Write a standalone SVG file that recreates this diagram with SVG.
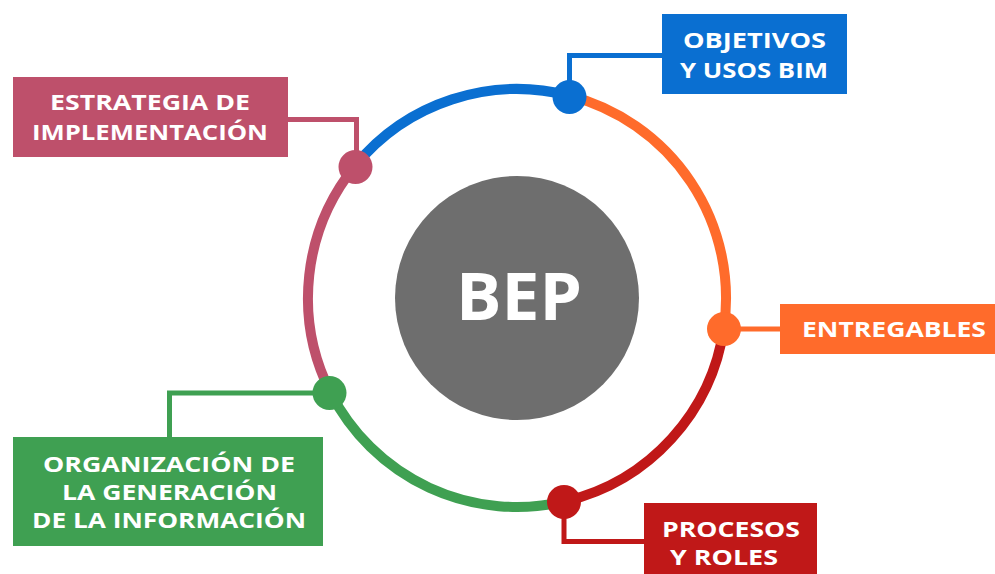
<svg xmlns="http://www.w3.org/2000/svg" width="995" height="574" viewBox="0 0 995 574">
<style>
.arc{fill:none;stroke-width:10}
.con{fill:none;stroke-width:5}
.lbl{font-family:"Open Sans","Liberation Sans",sans-serif;font-weight:bold;font-size:22px;fill:#fff;text-anchor:middle}
.bep{font-family:"Open Sans","Liberation Sans",sans-serif;font-weight:bold;font-size:67px;fill:#fff;text-anchor:middle}
</style>
<rect width="995" height="574" fill="#fff"/>
<g id="center">
<circle cx="517" cy="298" r="122" fill="#6e6e6e"/>
<text class="bep" x="519" y="320" textLength="126" lengthAdjust="spacingAndGlyphs">BEP</text>
</g>
<g id="connectors">
<path class="arc" stroke="#0a6fd1" d="M355.3,165.6 A209,209 0 0 1 569.3,95.7"/>
<path class="arc" stroke="#ff6b2b" d="M569.3,95.7 A209,209 0 0 1 723.9,327.8"/>
<path class="arc" stroke="#c01818" d="M723.9,327.8 A209,209 0 0 1 566.1,501.1"/>
<path class="arc" stroke="#3fa052" d="M566.1,501.1 A209,209 0 0 1 330.4,392.2"/>
<path class="arc" stroke="#be506b" d="M330.4,392.2 A209,209 0 0 1 355.3,165.6"/>
<path class="con" stroke="#0a6fd1" d="M569.5,97 V55.5 H662"/>
<path class="con" stroke="#be506b" d="M288,119.5 H356.5 V166"/>
<path class="con" stroke="#ff6b2b" d="M724,329 H780"/>
<path class="con" stroke="#3fa052" d="M329,393 H169.5 V437"/>
<path class="con" stroke="#c01818" d="M564,502 V541.5 H644"/>
</g>
<g id="objetivos">
<circle cx="569.5" cy="97" r="17" fill="#0a6fd1"/>
<rect x="662" y="14" width="185" height="80" fill="#0a6fd1"/>
<text class="lbl" x="754.5" y="48" textLength="143" lengthAdjust="spacingAndGlyphs">OBJETIVOS</text>
<text class="lbl" x="754" y="78" textLength="148" lengthAdjust="spacingAndGlyphs">Y USOS BIM</text>
</g>
<g id="estrategia">
<circle cx="355.5" cy="167" r="17" fill="#be506b"/>
<rect x="13" y="77" width="275" height="80" fill="#be506b"/>
<text class="lbl" x="150" y="110" textLength="200" lengthAdjust="spacingAndGlyphs">ESTRATEGIA DE</text>
<text class="lbl" x="150" y="140" textLength="236" lengthAdjust="spacingAndGlyphs">IMPLEMENTACIÓN</text>
</g>
<g id="entregables">
<circle cx="724" cy="329" r="17" fill="#ff6b2b"/>
<rect x="780" y="304" width="215" height="50" fill="#ff6b2b"/>
<text class="lbl" x="894" y="337" textLength="184" lengthAdjust="spacingAndGlyphs">ENTREGABLES</text>
</g>
<g id="organizacion">
<circle cx="329.5" cy="393" r="17" fill="#3fa052"/>
<rect x="13" y="437" width="310" height="109" fill="#3fa052"/>
<text class="lbl" x="169" y="472" textLength="252" lengthAdjust="spacingAndGlyphs">ORGANIZACIÓN DE</text>
<text class="lbl" x="169.5" y="500" textLength="215" lengthAdjust="spacingAndGlyphs">LA GENERACIÓN</text>
<text class="lbl" x="169" y="528" textLength="274" lengthAdjust="spacingAndGlyphs">DE LA INFORMACIÓN</text>
</g>
<g id="procesos">
<circle cx="564" cy="502" r="17" fill="#c01818"/>
<rect x="644" y="503" width="173" height="71" fill="#c01818"/>
<text class="lbl" x="731" y="537" textLength="138" lengthAdjust="spacingAndGlyphs">PROCESOS</text>
<text class="lbl" x="724" y="565" textLength="108" lengthAdjust="spacingAndGlyphs">Y ROLES</text>
</g>
</svg>
